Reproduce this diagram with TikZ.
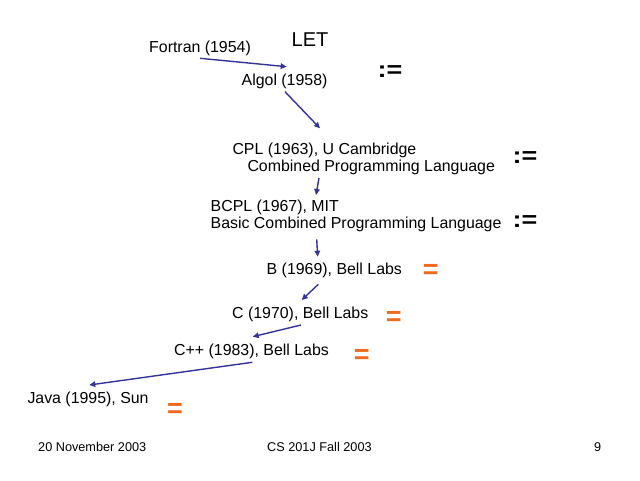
\documentclass[tikz,border=0pt]{standalone}
\usepackage{fontspec}
\setmainfont{Liberation Sans}
\usetikzlibrary{calc,arrows.meta}
\definecolor{navy}{HTML}{333399}
\definecolor{orng}{HTML}{F06A1E}
\tikzset{
  lbl/.style={inner sep=0pt, anchor=base west, font=\fontsize{15.9}{19}\selectfont},
  foot/.style={inner sep=0pt, anchor=base west, font=\fontsize{12.7}{15}\selectfont},
  assign/.style={inner sep=0pt, anchor=center, font=\fontsize{27}{30}\selectfont\bfseries},
  eq/.style={inner sep=0pt, anchor=center, text=orng, font=\fontsize{27}{30}\selectfont\bfseries},
  arr/.style={draw=navy, line width=1.4pt, -{Triangle[length=6pt,width=5.5pt]}}
}
\begin{document}
\begin{tikzpicture}[x=1pt,y=-1pt]
\useasboundingbox (0,0) rectangle (640,480);
\fill[white] (0,0) rectangle (640,480);
% texts
\node[lbl] (fortran) at (149,52.3) {Fortran (1954)};
\node[inner sep=0pt, anchor=base west, font=\fontsize{20}{24}\selectfont] (let) at (291.5,46.7) {LET};
\node[lbl] (algol) at (241.5,85) {Algol (1958)};
\node[lbl] (cplA) at (232.3,154) {CPL (1963), U Cambridge};
\node[lbl] (cplB) at (247.3,171) {Combined Programming Language};
\node[lbl] (bcplA) at (210.5,211) {BCPL (1967), MIT};
\node[lbl] (bcplB) at (210.5,228.3) {Basic Combined Programming Language};
\node[lbl] (b) at (266.5,274.3) {B (1969), Bell Labs};
\node[lbl] (c) at (232,318.3) {C (1970), Bell Labs};
\node[lbl] (cpp) at (174,355) {C++ (1983), Bell Labs};
\node[lbl] (java) at (27.3,403.3) {Java (1995), Sun};
% operators
\node[assign] (as1) at (390,72) {\scalebox{1}[0.85]{:=}};
\node[assign] (as2) at (525,157.5) {\scalebox{1}[0.85]{:=}};
\node[assign] (as3) at (525,221.3) {\scalebox{1}[0.85]{:=}};
\node[eq] (eq1) at (430.8,271.3) {=};
\node[eq] (eq2) at (393.7,318.7) {=};
\node[eq] (eq3) at (361.7,356.8) {=};
\node[eq] (eq4) at (175,410.3) {=};
% footer
\node[foot] (date) at (38,451.5) {20 November 2003};
\node[foot] (course) at (267,451.5) {CS 201J Fall 2003};
\node[foot] (page) at (594,451.5) {9};
% arrows
\draw[arr] ($(fortran.base west)+(51,6)$) -- ($(algol.base west)+(45.2,-18.3)$);
\draw[arr] ($(algol.base west)+(43.5,6.7)$) -- ($(cplA.base west)+(87.7,-25.7)$);
\draw[arr] ($(cplB.base west)+(71.7,7)$) -- ($(bcplA.base west)+(105.5,-16)$);
\draw[arr] ($(bcplB.base west)+(106.2,11)$) -- ($(b.base west)+(51.2,-17.6)$);
\draw[arr] ($(b.base west)+(51.8,10)$) -- ($(c.base west)+(69.7,-18.3)$);
\draw[arr] ($(c.base west)+(69,6.7)$) -- ($(cpp.base west)+(78.7,-18.3)$);
\draw[arr] ($(cpp.base west)+(78.3,7.3)$) -- ($(java.base west)+(62,-18.3)$);
\end{tikzpicture}
\end{document}
